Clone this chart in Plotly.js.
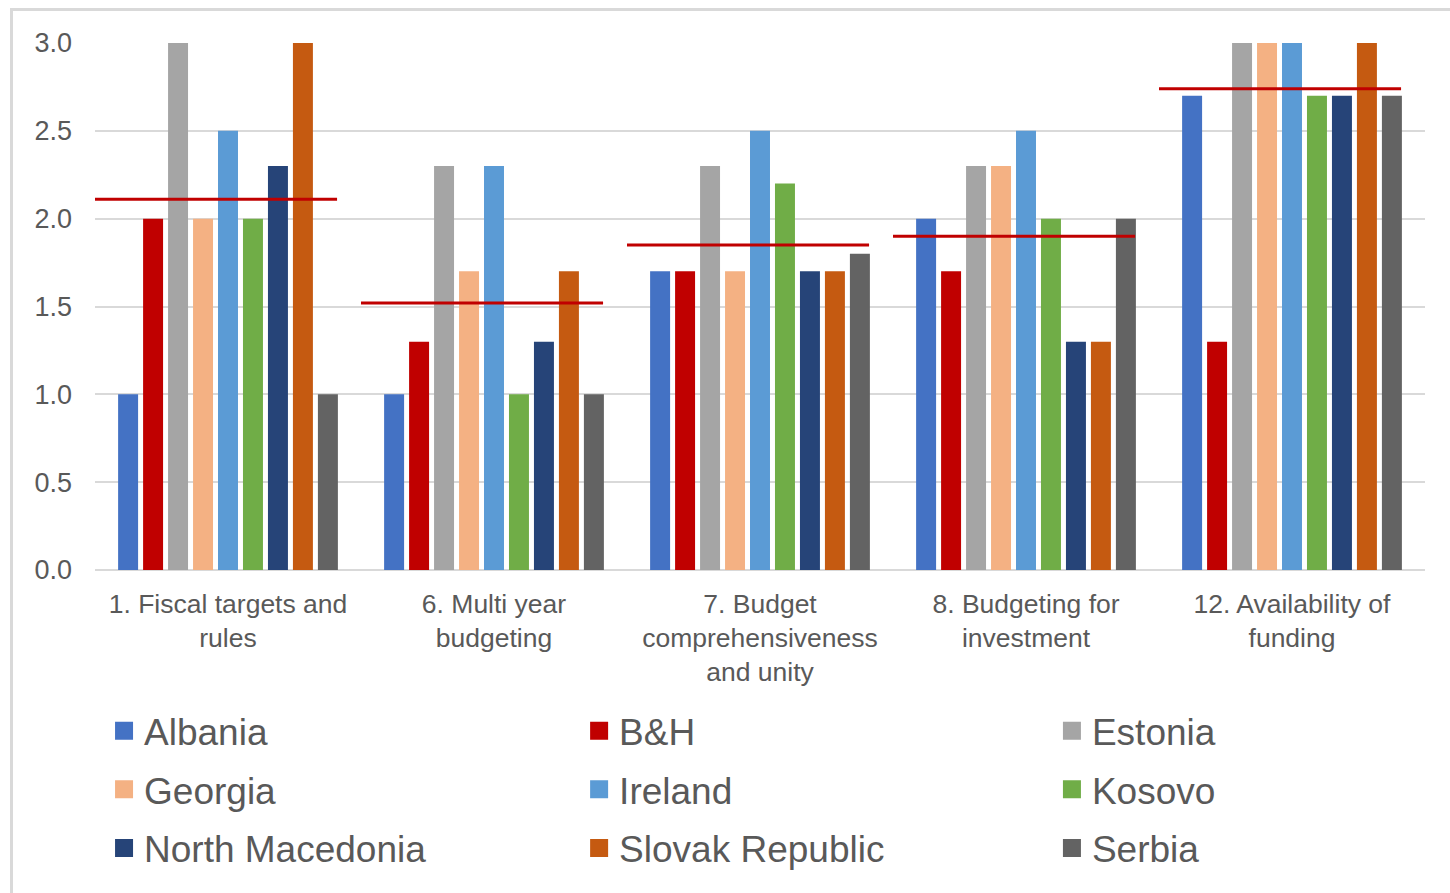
<!DOCTYPE html>
<html>
<head>
<meta charset="utf-8">
<script src="https://cdn.plot.ly/plotly-3.0.1.min.js"></script>
<style>
  html, body { margin: 0; padding: 0; background: #ffffff; }
  #frame { position: absolute; left: 10px; top: 8px; width: 1460px; height: 900px;
           border-left: 3px solid #d9d9d9; border-top: 3px solid #d9d9d9; }
  #chart { position: absolute; left: 0; top: 0; width: 1450px; height: 893px; }
</style>
</head>
<body>
<div id="frame"></div>
<div id="chart"></div>
<script>
const categories = [
  "1. Fiscal targets and<br>rules",
  "6. Multi year<br>budgeting",
  "7. Budget<br>comprehensiveness<br>and unity",
  "8. Budgeting for<br>investment",
  "12. Availability of<br>funding"
];

const albania        = [1.0, 1.0, 1.7, 2.0, 2.7];
const bih            = [2.0, 1.3, 1.7, 1.7, 1.3];
const estonia        = [3.0, 2.3, 2.3, 2.3, 3.0];
const georgia        = [2.0, 1.7, 1.7, 2.3, 3.0];
const ireland        = [2.5, 2.3, 2.5, 2.5, 3.0];
const kosovo         = [2.0, 1.0, 2.2, 2.0, 2.7];
const northMacedonia = [2.3, 1.3, 1.7, 1.3, 2.7];
const slovakRepublic = [3.0, 1.7, 1.7, 1.3, 3.0];
const serbia         = [1.0, 1.0, 1.8, 2.0, 2.7];

const averageLine = [2.11, 1.52, 1.85, 1.90, 2.74];

const yTickVals = [0, 0.5, 1.0, 1.5, 2.0, 2.5, 3.0];
const yTickText = ["0.0", "0.5", "1.0", "1.5", "2.0", "2.5", "3.0"];

const seriesList = [
  {name: "Albania",          values: albania,        color: "#4472C4", legend: "legend"},
  {name: "B&H",              values: bih,            color: "#C00000", legend: "legend2"},
  {name: "Estonia",          values: estonia,        color: "#A5A5A5", legend: "legend3"},
  {name: "Georgia",          values: georgia,        color: "#F4B183", legend: "legend"},
  {name: "Ireland",          values: ireland,        color: "#5B9BD5", legend: "legend2"},
  {name: "Kosovo",           values: kosovo,         color: "#70AD47", legend: "legend3"},
  {name: "North Macedonia",  values: northMacedonia, color: "#264478", legend: "legend"},
  {name: "Slovak Republic",  values: slovakRepublic, color: "#C55A11", legend: "legend2"},
  {name: "Serbia",           values: serbia,         color: "#636363", legend: "legend3"}
];

const catIdx = categories.map((c, i) => i);
const FONT = "Liberation Sans, Arial, sans-serif";
const TXT = "#595959";

const traces = seriesList.map((s, k) => ({
  type: "bar",
  name: s.name,
  x: catIdx,
  y: s.values,
  marker: {color: s.color, line: {width: 0}},
  legend: s.legend,
  legendgroup: "g" + k,
  hoverinfo: "name+y"
}));

// Average lines per category (segments separated by nulls)
const lx = [], ly = [];
catIdx.forEach(i => {
  lx.push(i - 0.5, i + 0.41, null);
  ly.push(averageLine[i], averageLine[i], null);
});
traces.push({
  type: "scatter", mode: "lines", x: lx, y: ly,
  line: {color: "#C00000", width: 3},
  showlegend: false, hoverinfo: "skip"
});

const legendBase = {
  orientation: "v", xanchor: "left", yanchor: "top", y: -0.247,
  font: {family: FONT, size: 37, color: TXT},
  bgcolor: "rgba(0,0,0,0)", borderwidth: 0, tracegroupgap: 7.5,
  itemclick: false, itemdoubleclick: false
};

const layout = {
  width: 1450, height: 893,
  margin: {l: 95, r: 25, t: 43, b: 323, autoexpand: false},
  paper_bgcolor: "rgba(0,0,0,0)",
  plot_bgcolor: "rgba(0,0,0,0)",
  barmode: "group",
  bargap: 0.155,
  bargroupgap: 0.2,
  font: {family: FONT, color: TXT},
  xaxis: {
    type: "linear",
    range: [-0.5, 4.5],
    tickvals: catIdx,
    ticktext: categories,
    tickfont: {family: FONT, size: 26.5, color: TXT},
    showgrid: false, zeroline: false, showline: false,
    ticks: "", ticklabelstandoff: 15, fixedrange: true
  },
  yaxis: {
    range: [0, 3.0],
    tickvals: yTickVals,
    ticktext: yTickText,
    tickfont: {family: FONT, size: 27, color: TXT},
    showgrid: true, gridcolor: "#d9d9d9", gridwidth: 2,
    zeroline: true, zerolinecolor: "#d9d9d9", zerolinewidth: 2,
    showline: false, ticks: "", ticklabelstandoff: 22, fixedrange: true
  },
  legend:  Object.assign({}, legendBase, {x: 0.0068}),
  legend2: Object.assign({}, legendBase, {x: 0.364}),
  legend3: Object.assign({}, legendBase, {x: 0.7195}),
  showlegend: true
};

function enlargeSwatches(gd) {
  // enlarge legend swatches to match the reference's square markers
  gd.querySelectorAll("g.legendpoints path").forEach(p => p.setAttribute("d", "M9,9H-9V-9H9Z"));
}

const gdEl = document.getElementById("chart");
Plotly.newPlot(gdEl, traces, layout, {displayModeBar: false}).then(gd => {
  enlargeSwatches(gd);
  setTimeout(() => enlargeSwatches(gd), 50);
});
gdEl.addEventListener && setTimeout(() => enlargeSwatches(gdEl), 200);
</script>
</body>
</html>
